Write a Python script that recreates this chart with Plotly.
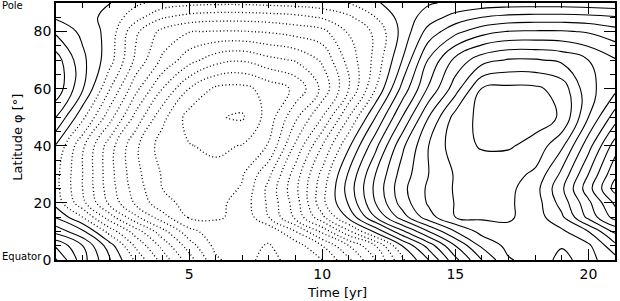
import plotly.graph_objects as go

# time axis (years) and latitude axis (degrees)
time_yr = list(range(22))
latitude = [0, 5, 10, 15, 20, 25, 30, 40, 50, 60, 70, 80, 85, 90]

# field values (one contour = 1 unit)
lat00 = [6.1, 3.4, 1.1, -1.2, -3.4, -5.5, -7.8, -8.7, -9.3, -8.6, -8.0, -6.2, -4.0, -1.2, 1.0, 3.7, 6.0, 7.9, 8.4, 7.8, 8.3, 7.4]
lat05 = [4.85, 3.0, 0.5, -2.2, -4.3, -6.5, -8.3, -8.8, -9.05, -8.5, -7.0, -5.0, -3.0, 0.0, 2.4, 5.0, 7.2, 8.3, 8.6, 8.05, 8.2, 6.3]
lat10 = [2.65, 1.2, -1.4, -3.5, -5.65, -7.65, -8.6, -8.7, -8.75, -7.0, -4.75, -2.2, 0.25, 2.75, 5.0, 7.0, 8.35, 8.7, 8.6, 8.2, 7.0, 4.8]
lat15 = [0.9, -1.0, -3.5, -5.8, -7.6, -9.1, -9.1, -8.8, -7.0, -4.75, -2.25, 0.25, 3.0, 5.5, 7.6, 9.0, 9.15, 9.15, 8.5, 7.2, 4.7, 2.6]
lat20 = [-0.4, -2.7, -5.2, -7.2, -8.7, -9.3, -9.3, -8.6, -6.8, -4.5, -1.3, 1.15, 4.0, 6.45, 8.15, 9.05, 9.2, 9.15, 8.5, 6.6, 4.25, 1.8]
lat25 = [-0.7, -3.0, -5.5, -7.5, -9.0, -9.5, -9.5, -8.9, -6.7, -4.25, -1.4, 1.45, 4.25, 6.7, 8.2, 9.1, 9.3, 9.25, 8.4, 6.2, 3.4, 0.6]
lat30 = [-0.7, -3.0, -5.6, -7.7, -9.1, -9.6, -9.7, -9.1, -7.2, -4.5, -1.7, 1.15, 4.0, 6.45, 8.0, 9.1, 9.4, 9.4, 8.8, 6.75, 4.0, 1.2]
lat40 = [-0.1, -2.8, -5.5, -7.8, -9.5, -9.95, -10.2, -9.95, -8.9, -5.8, -3.0, -0.15, 2.7, 5.75, 8.0, 9.6, 10.1, 10.1, 9.7, 8.2, 5.4, 2.5]
lat50 = [2.0, -0.75, -3.55, -6.35, -8.7, -10.4, -10.92, -11.12, -9.55, -7.2, -5.0, -2.0, 1.0, 4.0, 7.0, 9.4, 10.3, 10.45, 10.4, 9.9, 7.0, 4.5]
lat60 = [3.7, 1.1, -1.9, -4.7, -7.0, -9.0, -10.2, -10.3, -9.6, -8.8, -6.75, -4.0, -1.0, 2.3, 5.15, 7.55, 10.05, 10.25, 10.2, 9.6, 7.3, 6.3]
lat70 = [3.5, 1.25, -0.55, -3.25, -5.2, -6.6, -7.6, -7.9, -7.3, -6.9, -5.85, -3.6, -1.7, 1.0, 4.1, 6.3, 7.6, 8.1, 8.1, 7.8, 7.0, 6.1]
lat80 = [1.8, 0.75, -0.35, -2.8, -4.3, -4.95, -5.05, -5.05, -4.9, -4.6, -4.3, -2.9, -1.8, 0.3, 2.4, 3.7, 4.6, 5.05, 5.1, 5.1, 4.9, 4.4]
lat85 = [0.85, 0.4, -0.3, -1.6, -2.9, -3.4, -3.6, -3.6, -3.5, -3.3, -2.9, -2.2, -1.0, 0.4, 1.5, 2.4, 3.0, 3.3, 3.4, 3.4, 3.3, 3.1]
lat90 = [0.1, 0.1, 0.05, -0.8, -1.4, -1.7, -1.8, -1.8, -1.7, -1.6, -1.4, -1.0, -0.1, 0.4, 0.9, 1.2, 1.4, 1.5, 1.5, 1.5, 1.4, 1.3]

field = [lat00, lat05, lat10, lat15, lat20, lat25, lat30,
         lat40, lat50, lat60, lat70, lat80, lat85, lat90]

x_ticks = [5, 10, 15, 20]
y_ticks = [0, 20, 40, 60, 80]

fig = go.Figure()

# positive levels (and zero): solid
fig.add_trace(go.Contour(
    x=time_yr, y=latitude, z=field,
    autocontour=False,
    contours=dict(start=0, end=10, size=1, coloring='none'),
    line=dict(color='black', width=1.1, smoothing=1.2),
    showscale=False, hoverinfo='skip',
))

# negative levels: dotted
fig.add_trace(go.Contour(
    x=time_yr, y=latitude, z=field,
    autocontour=False,
    contours=dict(start=-11, end=-1, size=1, coloring='none'),
    line=dict(color='black', width=1.3, dash='1px,2.5px', smoothing=1.2),
    showscale=False, hoverinfo='skip',
))

axis_style = dict(
    showline=True, linecolor='black', linewidth=1.5, mirror='ticks',
    ticks='inside', ticklen=11, tickwidth=1, tickcolor='black',
    showgrid=False, zeroline=False, automargin=False,
    tickfont=dict(size=14),
)

fig.update_layout(
    width=620, height=301,
    margin=dict(l=56, r=5, t=3, b=41),
    plot_bgcolor='white', paper_bgcolor='white',
    font=dict(family='DejaVu Sans', size=13, color='black'),
    showlegend=False,
    annotations=[
        dict(text='Pole', xref='paper', yref='paper', x=-0.1, y=0.992,
             xanchor='left', yanchor='middle', showarrow=False,
             font=dict(size=10)),
        dict(text='Equator', xref='paper', yref='paper', x=-0.1, y=0.012,
             xanchor='left', yanchor='middle', showarrow=False,
             font=dict(size=10)),
        dict(text='Time [yr]', xref='paper', yref='paper', x=0.503, y=-0.128,
             xanchor='center', yanchor='middle', showarrow=False,
             font=dict(size=13)),
        dict(text='Latitude φ [°]', xref='paper', yref='paper', x=-0.068, y=0.48,
             xanchor='center', yanchor='middle', showarrow=False,
             textangle=-90, font=dict(size=13)),
    ],
)
fig.update_xaxes(
    range=[0, 21], tickvals=x_ticks,
    minor=dict(dtick=1, tick0=0, ticks='inside', ticklen=5, tickcolor='black'),
    **axis_style,
)
fig.update_yaxes(
    range=[0, 90], tickvals=y_ticks,
    minor=dict(dtick=5, tick0=0, ticks='inside', ticklen=5, tickcolor='black'),
    **axis_style,
)

# page body has a default 8px margin; drop it so the figure sits at the corner
fig.write_html("out.html", config={'displayModeBar': False},
               post_script="document.body.style.margin='0';")
